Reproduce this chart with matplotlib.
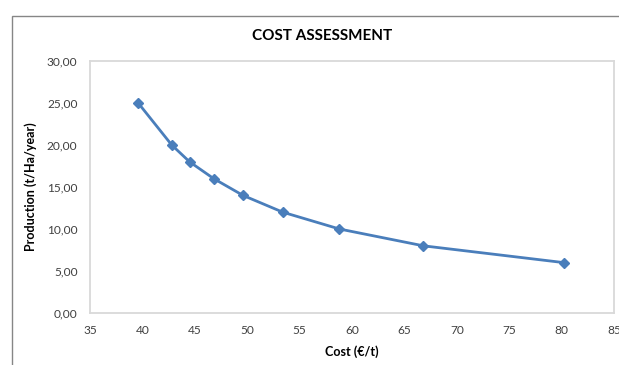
import matplotlib.pyplot as plt
from matplotlib.patches import Rectangle
from matplotlib.ticker import FuncFormatter

# data
cost = [39.6, 42.8, 44.5, 46.8, 49.6, 53.4, 58.8, 66.8, 80.2]
production = [25, 20, 18, 16, 14, 12, 10, 8, 6]
x_ticks = [35, 40, 45, 50, 55, 60, 65, 70, 75, 80, 85]
y_ticks = [0, 5, 10, 15, 20, 25, 30]

plt.rcParams['font.family'] = ['Lato', 'DejaVu Sans']

fig = plt.figure(figsize=(6.19, 3.65), dpi=100)
ax = fig.add_axes([90 / 619, 52 / 365, 524 / 619, 252 / 365])

ax.plot(cost, production, color='#4a7ebb', linewidth=2, marker='D',
        markersize=5.5, markerfacecolor='#4a7ebb', markeredgecolor='#4a7ebb')

ax.set_xlim(35, 85)
ax.set_ylim(0, 30)
ax.set_xticks(x_ticks)
ax.set_yticks(y_ticks)
ax.yaxis.set_major_formatter(FuncFormatter(lambda v, p: f'{v:.2f}'.replace('.', ',')))
ax.tick_params(length=0, labelsize=8.6, labelcolor='#404040', pad=9)

for s in ax.spines.values():
    s.set_color('#d9d9d9')
    s.set_linewidth(1.3)

ax.set_xlabel('Cost (€/t)', fontsize=9, fontweight='bold', labelpad=6)
ax.set_ylabel('Production (t/Ha/year)', fontsize=9, fontweight='bold', labelpad=7)

fig.text(322 / 619, 1 - 36 / 365, 'COST ASSESSMENT', ha='center', va='center',
         fontsize=11, fontweight='bold')

# outer chart border
fig.patches.append(Rectangle((12 / 619, -0.1), 1.2, 1 - 16 / 365 + 0.1,
                             transform=fig.transFigure, fill=False,
                             edgecolor='#868686', linewidth=1))

fig.savefig('out.png', dpi=100)
